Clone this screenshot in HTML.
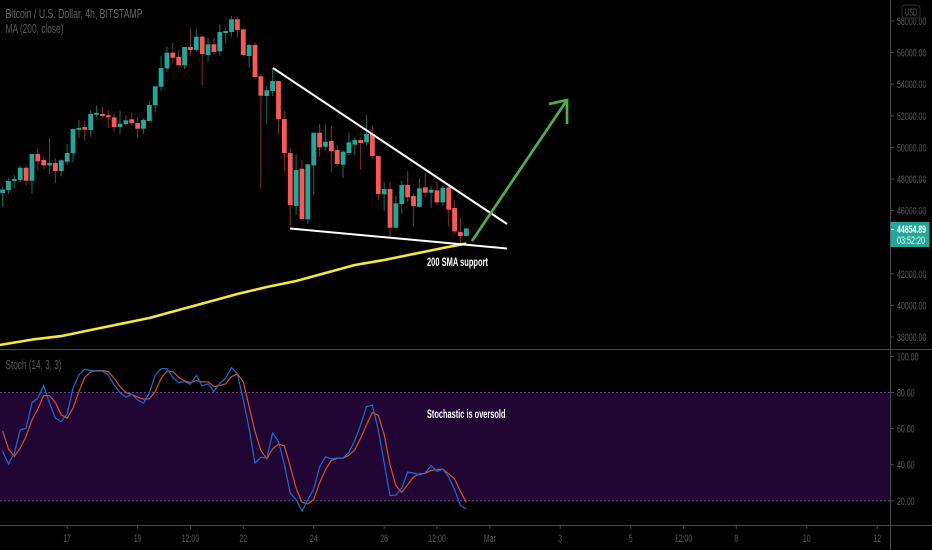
<!DOCTYPE html>
<html lang="en">
<head>
<meta charset="utf-8">
<title>Bitcoin / U.S. Dollar 4h chart</title>
<style>
html,body{margin:0;padding:0;background:#000;width:932px;height:550px;overflow:hidden}
svg{display:block;font-family:"Liberation Sans",sans-serif}
</style>
</head>
<body>
<svg id="chart" width="932" height="550" viewBox="0 0 932 550" xmlns="http://www.w3.org/2000/svg">
  <rect x="0" y="0" width="932" height="550" fill="#000"/>
  <rect x="0" y="392.5" width="890" height="108.5" fill="#210533"/>
  <line x1="0" x2="890" y1="392.5" y2="392.5" stroke="#6b4a80" stroke-dasharray="2 2"/>
  <line x1="0" x2="890" y1="500.7" y2="500.7" stroke="#6b4a80" stroke-dasharray="2 2"/>
  <line x1="0" x2="932" y1="349.5" y2="349.5" stroke="#4a4a4a"/>
  <line x1="0" x2="932" y1="525.5" y2="525.5" stroke="#4a4a4a"/>
  <line x1="890.5" x2="890.5" y1="0" y2="550" stroke="#4a4a4a"/>
  <g id="candles"></g>
  <polyline id="maLine" fill="none" stroke="#f7e63c" stroke-width="2.6" stroke-linejoin="round"/>
  <line x1="273" y1="68" x2="507" y2="224" stroke="#fff" stroke-width="2"/>
  <line x1="290" y1="228.5" x2="507" y2="248.5" stroke="#fff" stroke-width="2"/>
  <polyline points="472,241 567,100" fill="none" stroke="#4caf50" stroke-width="2.7"/>
  <polyline points="549,104 567,100 567,124" fill="none" stroke="#4caf50" stroke-width="2.7"/>
  <text x="427" y="266" fill="#fff" font-size="12" font-weight="700" textLength="61" lengthAdjust="spacingAndGlyphs">200 SMA support</text>
  <polyline id="stochD" fill="none" stroke="#d6502c" stroke-width="1.2"/>
  <polyline id="stochK" fill="none" stroke="#1e6bd0" stroke-width="1.2"/>
  <text x="427" y="418" fill="#fff" font-size="12" font-weight="700" textLength="78.5" lengthAdjust="spacingAndGlyphs">Stochastic is oversold</text>
  <text x="5.5" y="18" fill="#666" font-size="13" textLength="137" lengthAdjust="spacingAndGlyphs">Bitcoin / U.S. Dollar, 4h, BITSTAMP</text>
  <text x="5.5" y="33" fill="#5a5a5a" font-size="13" textLength="58" lengthAdjust="spacingAndGlyphs">MA (200, close)</text>
  <text x="5.5" y="369" fill="#5a5a5a" font-size="13" textLength="56" lengthAdjust="spacingAndGlyphs">Stoch (14, 3, 3)</text>
  <g id="priceAxis"></g>
  <g id="stochAxis"></g>
  <g id="timeAxis"></g>
  <rect x="902" y="5" width="18" height="13" rx="3" fill="#000" stroke="#2c2c2c"/>
  <text x="911" y="15.5" fill="#5e5e5e" font-size="10.5" text-anchor="middle" textLength="12" lengthAdjust="spacingAndGlyphs">USD</text>
  <rect x="890.5" y="222" width="39" height="25" fill="#26a69a"/>
  <line x1="891" x2="894" y1="229.5" y2="229.5" stroke="#dff"/>
  <text x="897" y="233" fill="#fff" font-size="11" font-weight="700" textLength="29" lengthAdjust="spacingAndGlyphs">44854.89</text>
  <text x="897" y="244" fill="#eafffb" font-size="11" textLength="28" lengthAdjust="spacingAndGlyphs">03:52:20</text>
</svg>
<script>
var opens=[47112,47302,47872,47935,48713,47890,49581,49201,48865,49011,48505,49093,49625,51119,51290,51100,52068,52113,52030,51904,51290,51480,51777,51543,51182,51670,52663,53841,55006,55993,55721,55195,56354,56164,57006,55848,56525,56082,57240,57303,58107,57474,55784,56480,54499,53252,53569,54202,51796,49644,46289,48650,45447,48865,50929,50043,50404,49834,48904,49644,50169,50467,50321,50847,49454,47030,47365,44915,46416,47618,46922,46245,47473,47131,47283,46523,47473,46163,44643,44390];
var highs=[47492,48043,48251,48840,48840,49612,49916,49391,50575,49328,49245,50214,51208,51733,51651,52366,52663,52556,52366,52195,52303,52050,52220,51942,51860,52891,53885,55784,56373,56607,56164,56354,57538,57493,57050,56943,56943,57810,57601,58316,58272,57493,56544,56651,54645,53885,55025,54202,52303,49942,49562,49201,48929,50929,51480,51461,51353,50150,49834,50929,50638,50638,52050,51372,49454,47828,47828,46922,47890,48505,47131,48043,48359,47555,47828,47555,47555,46669,45574,44874];
var lows=[46226,47049,47429,47827,47600,47049,48524,48631,48315,47745,48169,48885,49055,50594,50423,50676,51942,51904,51227,50992,50847,51353,51353,50594,50847,51670,52258,53588,54790,55341,55195,54961,55784,56056,53949,55468,55848,55803,56588,57006,56968,55816,55044,54392,47410,51480,53252,50802,48505,44979,45719,45466,45150,46985,49410,49790,48422,48840,48062,49518,49518,48612,50106,49245,46669,45973,44346,44915,45783,46561,45042,46245,46878,46182,46352,46308,44979,44561,43928,44390];
var closes=[47334,47872,47998,48713,47890,49581,49119,48865,49011,48505,49182,49644,51163,51227,51119,52113,52176,51986,51904,51290,51499,51714,51543,51182,51733,52683,53866,55025,55993,55677,55195,56354,56164,57006,55911,56525,56037,57303,57367,58107,57430,55848,56480,54455,53271,53613,54202,51777,49644,46352,48568,45466,48929,50929,50005,50359,49771,48948,49726,50321,50467,50277,50847,49454,47049,47365,44915,46460,47618,46840,46289,47409,47131,47321,46523,47448,46055,44688,44390,44874];

var maBars=[-1,5,10,15,20,25,30,35,40,45,50,55,60,65,70,75,79];
var maValues=[37460,37838,38060,38440,38820,39200,39706,40213,40719,41162,41542,42048,42555,42871,43251,43631,43915];

var stochK=[47.4,40.4,46.4,59.3,60.3,74.4,76.8,83.8,74.1,65.8,63.9,68.2,82.4,89.7,92.9,92.1,91.9,91.9,89.7,84.2,80,77.4,79,75.9,74.1,79.6,89.7,93.2,93.2,88.3,85.5,86,84.6,89.4,83.7,84.8,80.5,85.1,87.9,93.8,90.3,75.9,60.3,40.9,44.2,43.7,57.5,52.9,40,24.3,20.7,14.4,20.7,26.5,38.7,44.4,43.3,43.7,43.7,46.8,53.4,62.1,72.2,73,59.3,40.9,22.9,23.2,27.1,35.9,35.4,34.5,35.4,39.6,36.3,37.6,33.2,26.2,17.4,15.5];
var stochD=[58.8,48.7,44.6,49.2,55.7,64.9,70.8,78.3,78.3,74.4,67.6,65.8,71.3,80.5,88.4,91.4,92.1,92.1,91.6,87.9,83.3,80,78.9,77.4,76.3,76.5,80.5,87.9,91.9,91.6,88.4,86.4,85.5,86.6,85.9,85.9,83.3,83.8,84.8,88.8,90.3,86,72.2,58.4,47.9,43.3,48.7,51.4,50.5,39.1,27.1,19.2,18.3,20.7,29.9,37.2,42.4,43.5,43.7,45.2,48.3,54.7,62.1,68.9,67.3,56.6,40,28.4,24.7,28.9,33.2,35,35.2,36.9,37.2,37.6,35,32.1,25.3,19.2];

var priceTicks=[58000,56000,54000,52000,50000,48000,46000,44000,42000,40000,38000];
var stochTicks=[100,80,60,40,20];
var timeBars=[11,23,32,41,53,65,74,83,95,107,116,125,137,149];
var timeLabels=["17","19","12:00","22","24","26","12:00","Mar","3","5","12:00","8","10","12"];

var NS="http://www.w3.org/2000/svg";
function xBar(i){return 2.6+5.87*i;}
function yPrice(p){return 21+(58000-p)*0.0158;}
function yStoch(v){return 392.5+(80-v)*1.806;}
function make(tag,parent){var e=document.createElementNS(NS,tag);parent.appendChild(e);return e;}
function narrow(t,ratio){t.setAttribute("textLength",(t.getComputedTextLength()*ratio).toFixed(1));t.setAttribute("lengthAdjust","spacingAndGlyphs");}

var candles=document.getElementById("candles");
for(var i=0;i<opens.length;i++){
  var up=closes[i]>=opens[i];
  var cx=xBar(i);
  var wick=make("line",candles);
  
  
  wick.setAttribute("x1",cx);wick.setAttribute("x2",cx);
  wick.setAttribute("y1",yPrice(highs[i]));wick.setAttribute("y2",yPrice(lows[i]));
  wick.setAttribute("stroke",up?"#14625a":"#7a2b2b");
  wick.setAttribute("stroke-width","1.1");
  var bodyTop=yPrice(Math.max(opens[i],closes[i]));
  var bodyBottom=yPrice(Math.min(opens[i],closes[i]));
  var body=make("rect",candles);
  
  
  body.setAttribute("x",cx-2.4);body.setAttribute("width",4.8);
  body.setAttribute("y",bodyTop);body.setAttribute("height",Math.max(bodyBottom-bodyTop,1.5));
  body.setAttribute("fill",up?"#26a69a":"#f55a58");
}

document.getElementById("maLine").setAttribute("points",maBars.map(function(b,k){return xBar(b).toFixed(1)+","+yPrice(maValues[k]).toFixed(1);}).join(" "));
document.getElementById("stochK").setAttribute("points",stochK.map(function(v,k){return xBar(k).toFixed(1)+","+yStoch(v).toFixed(1);}).join(" "));
document.getElementById("stochD").setAttribute("points",stochD.map(function(v,k){return xBar(k).toFixed(1)+","+yStoch(v).toFixed(1);}).join(" "));

var pa=document.getElementById("priceAxis");
priceTicks.forEach(function(p){
  var y=yPrice(p);
  var tk=make("line",pa);
  
  
  tk.setAttribute("x1",891);tk.setAttribute("x2",894);tk.setAttribute("y1",y);tk.setAttribute("y2",y);
  tk.setAttribute("stroke","#4a4a4a");
  var t=make("text",pa);
  
  
  t.setAttribute("x",897);t.setAttribute("y",y+4);
  t.setAttribute("fill","#5a5a5a");t.setAttribute("font-size","11");
  t.textContent=p.toFixed(2);
  narrow(t,0.64);
});

var sa=document.getElementById("stochAxis");
stochTicks.forEach(function(v){
  var y=yStoch(v);
  var tk=make("line",sa);
  
  
  tk.setAttribute("x1",891);tk.setAttribute("x2",894);tk.setAttribute("y1",y);tk.setAttribute("y2",y);
  tk.setAttribute("stroke","#4a4a4a");
  var t=make("text",sa);
  
  
  t.setAttribute("x",897);t.setAttribute("y",y+4);
  t.setAttribute("fill","#5a5a5a");t.setAttribute("font-size","11");
  t.textContent=v.toFixed(2);
  narrow(t,0.64);
});

var ta=document.getElementById("timeAxis");
timeBars.forEach(function(b,k){
  var x=xBar(b);
  var tk=make("line",ta);
  
  
  tk.setAttribute("x1",x);tk.setAttribute("x2",x);tk.setAttribute("y1",526);tk.setAttribute("y2",529);
  tk.setAttribute("stroke","#4a4a4a");
  var t=make("text",ta);
  
  
  t.setAttribute("x",x);t.setAttribute("y",542);
  t.setAttribute("fill","#5a5a5a");t.setAttribute("font-size","11");
  t.setAttribute("text-anchor","middle");
  t.textContent=timeLabels[k];
  narrow(t,0.64);
});
</script>
</body>
</html>
